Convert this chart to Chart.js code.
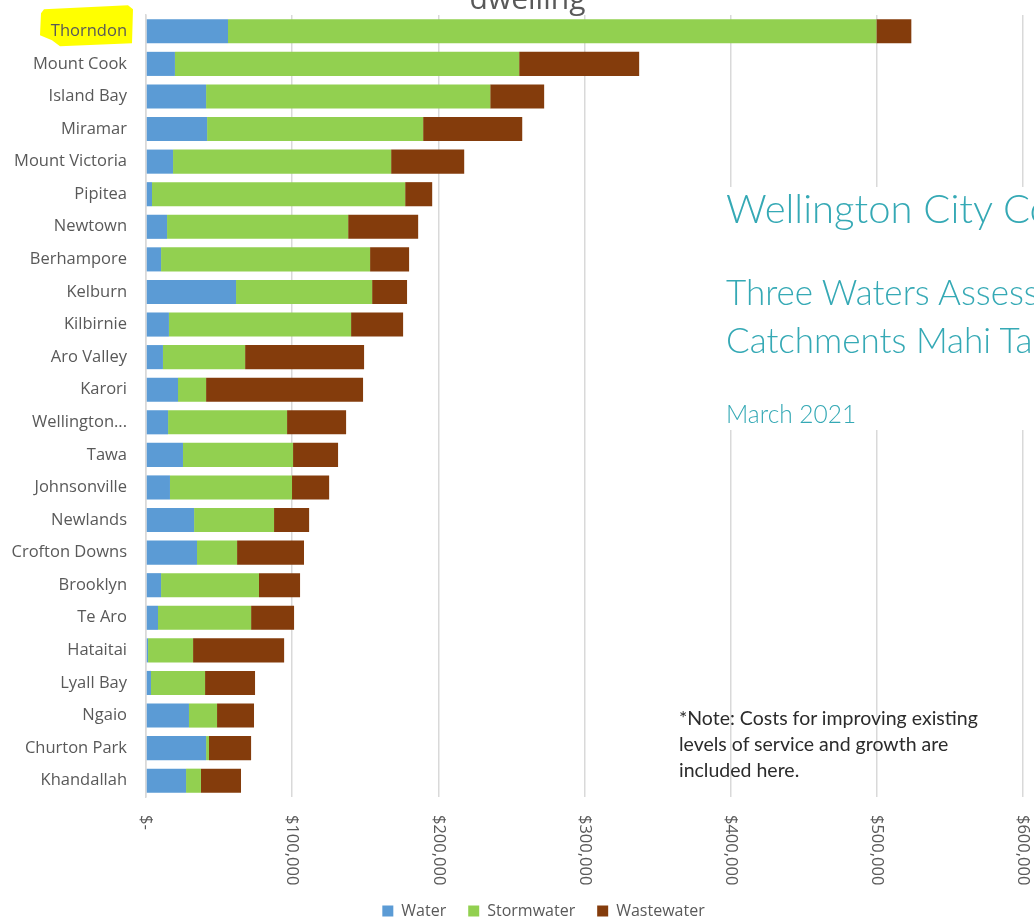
<!DOCTYPE html>
<html>
<head>
<meta charset="utf-8">
<script src="https://cdn.jsdelivr.net/npm/chart.js@4.4.1/dist/chart.umd.min.js"></script>
<style>
html,body{margin:0;padding:0;width:1034px;height:918px;overflow:hidden;background:#fff;}
#wrap{position:absolute;left:0;top:-30px;width:1034px;height:960px;}
#c{display:block;}
.ov{position:absolute;white-space:nowrap;line-height:1;font-family:Lato,"Open Sans",sans-serif;font-weight:300;color:#35a9b5;z-index:3;}
#whitebox{position:absolute;left:720px;top:187px;width:314px;height:243px;background:#fff;z-index:2;}
#note{position:absolute;left:679px;top:705px;font-family:Lato,"Open Sans",sans-serif;font-size:19.5px;line-height:26px;color:#2b2b2b;white-space:nowrap;z-index:3;}
</style>
</head>
<body>
<div id="wrap"><canvas id="c" width="1034" height="960"></canvas></div>
<div id="whitebox"></div>
<div class="ov" style="left:726px;top:188px;font-size:40px;">Wellington City Co</div>
<div class="ov" style="left:726px;top:274px;font-size:35px;">Three Waters Assess</div>
<div class="ov" style="left:726px;top:322px;font-size:35px;">Catchments Mahi Ta</div>
<div class="ov" style="left:726px;top:402px;font-size:24.5px;">March 2021</div>
<div id="note">*Note: Costs for improving existing<br>levels of service and growth are<br>included here.</div>
<script>
const titleText = 'dwelling';
const categories = ['Thorndon','Mount Cook','Island Bay','Miramar','Mount Victoria','Pipitea','Newtown','Berhampore','Kelburn','Kilbirnie','Aro Valley','Karori','Wellington...','Tawa','Johnsonville','Newlands','Crofton Downs','Brooklyn','Te Aro','Hataitai','Lyall Bay','Ngaio','Churton Park','Khandallah'];
const water = [56100,19800,41100,41800,18500,4100,14400,10300,61600,15700,11600,21900,15100,25300,16400,32900,34900,10300,8200,1400,3400,29400,41100,27400];
const stormwater = [443600,235500,194400,147800,149200,173200,123900,143000,93100,124600,56200,19200,81400,75300,83500,54700,27400,67000,63700,30800,37000,19200,2000,10200];
const wastewater = [23900,82100,36900,67800,50000,18500,47900,26700,23900,35600,81400,107400,40400,30800,25400,24000,45800,28100,29400,62300,34200,25300,28800,27400];
const tickValues = [0,100000,200000,300000,400000,500000,600000];
const tickLabels = ['$-','$100,000','$200,000','$300,000','$400,000','$500,000','$600,000'];

const labelFont = '"Open Sans", sans-serif';
const gray = '#595959';
const gridColor = '#d9d9d9';

const highlightPlugin = {
  id: 'highlight',
  beforeDraw(chart) {
    const ys = chart.scales.y;
    const cy = ys.getPixelForValue(0);
    const ctx = chart.ctx;
    ctx.save();
    ctx.fillStyle = '#ffff00';
    ctx.beginPath();
    ctx.moveTo(44, cy - 22);
    ctx.lineTo(128, cy - 26);
    ctx.lineTo(133, cy - 22);
    ctx.lineTo(132, cy + 12);
    ctx.lineTo(60, cy + 15);
    ctx.lineTo(52, cy + 9);
    ctx.lineTo(40, cy + 4);
    ctx.lineTo(41, cy - 18);
    ctx.closePath();
    ctx.fill();
    ctx.restore();
  }
};

const xLabelsPlugin = {
  id: 'xlabels',
  afterLayout(chart) {
    if (chart.titleBlock) { chart.titleBlock.left += 16; chart.titleBlock.right += 16; }
    if (chart.legend) { chart.legend.left += 32; chart.legend.right += 32; }
  },
  afterDraw(chart) {
    const xs = chart.scales.x;
    const ca = chart.chartArea;
    const ctx = chart.ctx;
    ctx.save();
    ctx.font = '16.5px ' + labelFont;
    ctx.fillStyle = gray;
    ctx.textAlign = 'left';
    ctx.textBaseline = 'middle';
    tickValues.forEach((v, i) => {
      const px = xs.getPixelForValue(v);
      ctx.save();
      ctx.translate(px, ca.bottom + 18);
      ctx.rotate(Math.PI / 2);
      ctx.fillText(tickLabels[i], 0, 0);
      ctx.restore();
    });
    ctx.restore();
  }
};

new Chart(document.getElementById('c'), {
  type: 'bar',
  data: {
    labels: categories,
    datasets: [
      {label: 'Water', data: water, backgroundColor: '#5b9bd5'},
      {label: 'Stormwater', data: stormwater, backgroundColor: '#92d050'},
      {label: 'Wastewater', data: wastewater, backgroundColor: '#843c0c'}
    ]
  },
  options: {
    indexAxis: 'y',
    responsive: false,
    animation: false,
    layout: {padding: {left: 0, right: 11, top: 0, bottom: 1}},
    datasets: {bar: {categoryPercentage: 1, barPercentage: 0.74, borderWidth: 0}},
    scales: {
      x: {
        stacked: true,
        min: 0,
        max: 600000,
        ticks: {display: false, stepSize: 100000},
        grid: {color: gridColor, lineWidth: 1.5, drawTicks: false},
        border: {display: false},
        afterFit(scale) { scale.height = 84; }
      },
      y: {
        stacked: true,
        ticks: {color: gray, font: {family: labelFont, size: 16.5}, padding: 19, autoSkip: false},
        grid: {display: false, drawTicks: false},
        border: {display: true, color: gridColor, width: 1.5},
        afterFit(scale) { scale.width = 146; }
      }
    },
    plugins: {
      title: {
        display: true,
        text: titleText,
        color: gray,
        font: {family: labelFont, size: 30, weight: 'normal', lineHeight: 1},
        padding: {top: 15, bottom: 0}
      },
      legend: {
        position: 'bottom',
        labels: {color: gray, font: {family: labelFont, size: 16}, boxWidth: 11, boxHeight: 11, padding: 22}
      },
      tooltip: {enabled: false}
    }
  },
  plugins: [highlightPlugin, xLabelsPlugin]
});
</script>
</body>
</html>
